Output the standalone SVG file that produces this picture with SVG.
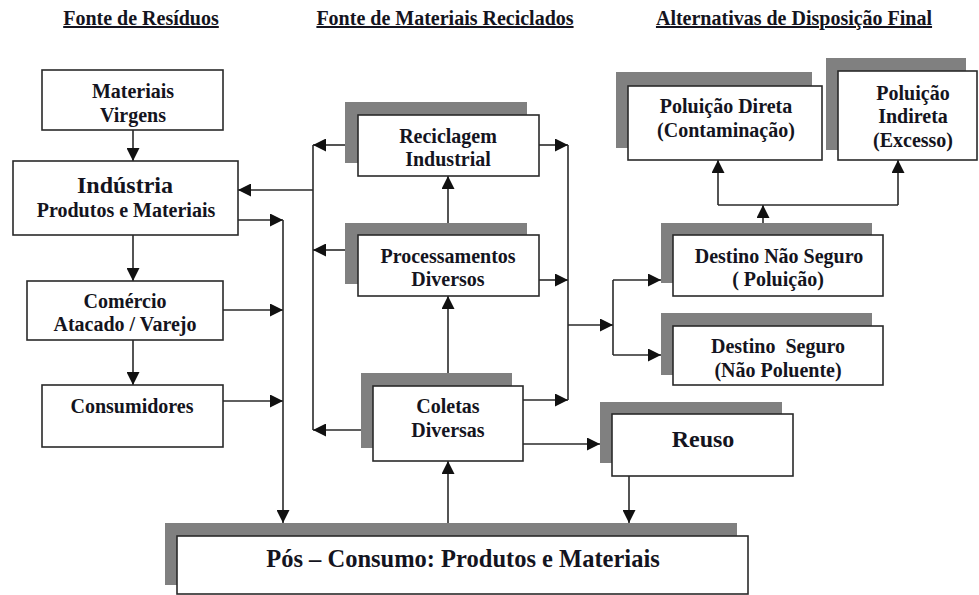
<svg xmlns="http://www.w3.org/2000/svg" width="979" height="595" viewBox="0 0 979 595">
<defs>
<style>
text{font-family:"Liberation Serif","Times New Roman",serif;font-weight:bold;fill:#141420;text-anchor:middle;font-size:20px}
.hdr{text-decoration:underline}
.box{fill:#fff;stroke:#2a2a2a;stroke-width:1.6}
.sh{fill:#808080}
.ln{fill:none;stroke:#2a2a2a;stroke-width:1.6}
.big{font-size:24px}
</style>
<marker id="ah" viewBox="0 0 13 13" refX="13" refY="6.5" markerWidth="13" markerHeight="13" markerUnits="userSpaceOnUse" orient="auto">
<path d="M0,0 L13,6.5 L0,13 z" fill="#111"/>
</marker>
</defs>
<rect width="979" height="595" fill="#fff"/>

<g id="headers">
<text class="hdr" x="141" y="25">Fonte de Resíduos</text>
<text class="hdr" x="445" y="25">Fonte de Materiais Reciclados</text>
<text class="hdr" x="794" y="25">Alternativas de Disposição Final</text>
</g>

<g id="connectors">
<line class="ln" x1="133" y1="130" x2="133" y2="161" marker-end="url(#ah)"/>
<line class="ln" x1="133" y1="235" x2="133" y2="281" marker-end="url(#ah)"/>
<line class="ln" x1="133" y1="340" x2="133" y2="385" marker-end="url(#ah)"/>
<line class="ln" x1="238" y1="220" x2="283" y2="220" marker-end="url(#ah)"/>
<line class="ln" x1="223" y1="310" x2="283" y2="310" marker-end="url(#ah)"/>
<line class="ln" x1="223" y1="401" x2="283" y2="401" marker-end="url(#ah)"/>
<line class="ln" x1="283" y1="220" x2="283" y2="523" marker-end="url(#ah)"/>
<line class="ln" x1="313" y1="145" x2="313" y2="430"/>
<line class="ln" x1="313" y1="190" x2="238" y2="190" marker-end="url(#ah)"/>
<line class="ln" x1="345" y1="145" x2="313" y2="145" marker-end="url(#ah)"/>
<line class="ln" x1="345" y1="250" x2="313" y2="250" marker-end="url(#ah)"/>
<line class="ln" x1="361" y1="430" x2="313" y2="430" marker-end="url(#ah)"/>
<line class="ln" x1="539" y1="145" x2="568" y2="145" marker-end="url(#ah)"/>
<line class="ln" x1="539" y1="280" x2="568" y2="280" marker-end="url(#ah)"/>
<line class="ln" x1="523" y1="400" x2="568" y2="400" marker-end="url(#ah)"/>
<line class="ln" x1="568" y1="145" x2="568" y2="400"/>
<line class="ln" x1="568" y1="325" x2="613" y2="325" marker-end="url(#ah)"/>
<line class="ln" x1="613" y1="280" x2="613" y2="355"/>
<line class="ln" x1="613" y1="280" x2="661" y2="280" marker-end="url(#ah)"/>
<line class="ln" x1="613" y1="355" x2="661" y2="355" marker-end="url(#ah)"/>
<line class="ln" x1="763" y1="223" x2="763" y2="205" marker-end="url(#ah)"/>
<line class="ln" x1="718" y1="205" x2="898" y2="205"/>
<line class="ln" x1="718" y1="205" x2="718" y2="160" marker-end="url(#ah)"/>
<line class="ln" x1="898" y1="205" x2="898" y2="160" marker-end="url(#ah)"/>
<line class="ln" x1="448" y1="235" x2="448" y2="176" marker-end="url(#ah)"/>
<line class="ln" x1="448" y1="373" x2="448" y2="296" marker-end="url(#ah)"/>
<line class="ln" x1="448" y1="523" x2="448" y2="461" marker-end="url(#ah)"/>
<line class="ln" x1="523" y1="444" x2="600" y2="444" marker-end="url(#ah)"/>
<line class="ln" x1="629" y1="476" x2="629" y2="523" marker-end="url(#ah)"/>
</g>

<g id="materiais-virgens">
<rect class="box" x="42" y="70" width="181" height="60"/>
<text x="133" y="98">Materiais</text>
<text x="133" y="122">Virgens</text>
</g>

<g id="industria">
<rect class="box" x="13" y="161" width="225" height="74"/>
<text class="big" x="125" y="193">Indústria</text>
<text x="126" y="217">Produtos e Materiais</text>
</g>

<g id="comercio">
<rect class="box" x="27" y="281" width="196" height="59"/>
<text x="125" y="308">Comércio</text>
<text x="125" y="331">Atacado / Varejo</text>
</g>

<g id="consumidores">
<rect class="box" x="42" y="385" width="181" height="62"/>
<text x="132" y="413">Consumidores</text>
</g>

<g id="reciclagem-industrial">
<rect class="sh" x="345" y="102" width="182" height="61"/>
<rect class="box" x="358" y="115" width="181" height="61"/>
<text x="448" y="143">Reciclagem</text>
<text x="448" y="166">Industrial</text>
</g>

<g id="processamentos-diversos">
<rect class="sh" x="345" y="223" width="182" height="61"/>
<rect class="box" x="358" y="235" width="181" height="61"/>
<text x="448" y="263">Processamentos</text>
<text x="448" y="286">Diversos</text>
</g>

<g id="coletas-diversas">
<rect class="sh" x="361" y="373" width="151" height="75"/>
<rect class="box" x="373" y="386" width="150" height="75"/>
<text x="448" y="413">Coletas</text>
<text x="448" y="437">Diversas</text>
</g>

<g id="poluicao-direta">
<rect class="sh" x="616" y="72" width="196" height="76"/>
<rect class="box" x="628" y="86" width="194" height="74"/>
<text x="726" y="113">Poluição Direta</text>
<text x="726" y="137">(Contaminação)</text>
</g>

<g id="poluicao-indireta">
<rect class="sh" x="826" y="58" width="140" height="92"/>
<rect class="box" x="838" y="71" width="139" height="89"/>
<text x="913" y="100">Poluição</text>
<text x="913" y="123">Indireta</text>
<text x="913" y="147">(Excesso)</text>
</g>

<g id="destino-nao-seguro">
<rect class="sh" x="661" y="223" width="211" height="60"/>
<rect class="box" x="673" y="235" width="210" height="61"/>
<text x="779" y="263">Destino Não Seguro</text>
<text x="778" y="286">( Poluição)</text>
</g>

<g id="destino-seguro">
<rect class="sh" x="661" y="313" width="211" height="62"/>
<rect class="box" x="673" y="326" width="210" height="59"/>
<text x="778" y="353" xml:space="preserve">Destino  Seguro</text>
<text x="778" y="377">(Não Poluente)</text>
</g>

<g id="reuso">
<rect class="sh" x="600" y="402" width="182" height="61"/>
<rect class="box" x="612" y="414" width="181" height="62"/>
<text class="big" x="703" y="447">Reuso</text>
</g>

<g id="pos-consumo">
<rect class="sh" x="165" y="523" width="572" height="62"/>
<rect class="box" x="177" y="536" width="571" height="58"/>
<text class="big" x="463" y="567" style="font-size:24.5px">Pós – Consumo: Produtos e Materiais</text>
</g>
</svg>
